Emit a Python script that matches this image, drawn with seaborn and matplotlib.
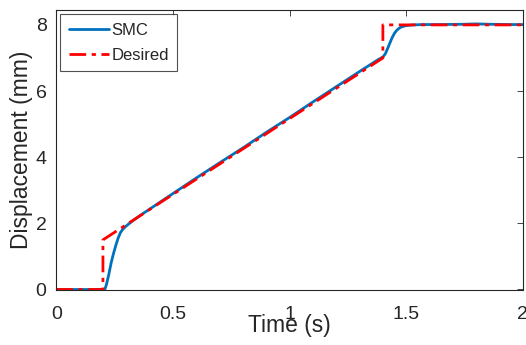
import numpy as np
import pandas as pd
import matplotlib
matplotlib.use('Agg')
import matplotlib.pyplot as plt
import seaborn as sns

# Desired trajectory (step, ramp, step)
t_desired = [0.0, 0.2, 0.2, 1.4, 1.4, 2.0]
x_desired = [0.0, 0.0, 1.5, 7.0, 8.0, 8.0]

# SMC response
t_smc = [0.0, 0.2, 0.208, 0.215, 0.225, 0.235, 0.245, 0.255, 0.265, 0.275,
         0.285, 0.295, 0.31, 0.33, 0.36, 0.4, 0.5, 0.6, 0.7, 0.8, 0.9, 1.0,
         1.1, 1.2, 1.3, 1.38, 1.40, 1.41, 1.42, 1.43, 1.44, 1.45, 1.46, 1.47,
         1.48, 1.5, 1.53, 1.57, 1.65, 1.75, 1.8, 1.85, 1.95, 2.0]
x_smc = [0.0, 0.0, 0.0, 0.15, 0.45, 0.8, 1.08, 1.33, 1.55, 1.72,
         1.82, 1.89, 1.98, 2.09, 2.24, 2.43, 2.9, 3.37, 3.83, 4.28, 4.75, 5.2,
         5.67, 6.13, 6.59, 6.95, 7.03, 7.12, 7.28, 7.45, 7.62, 7.75, 7.84, 7.9,
         7.94, 7.98, 8.0, 8.01, 8.01, 8.02, 8.03, 8.02, 8.01, 8.01]

sns.set_style('white')
plt.rcParams['font.family'] = ['Liberation Sans', 'DejaVu Sans']

fig, ax = plt.subplots(figsize=(5.26, 3.45), dpi=100)
fig.subplots_adjust(left=0.107, right=0.994, bottom=0.158, top=0.971)

smc = pd.DataFrame({'t': t_smc, 'x': x_smc})
des = pd.DataFrame({'t': t_desired, 'x': x_desired})
sns.lineplot(data=smc, x='t', y='x', sort=False, estimator=None, ax=ax,
             color='#0072BD', linewidth=2, label='SMC')
sns.lineplot(data=des, x='t', y='x', sort=False, estimator=None, ax=ax,
             color='#FF0000', linewidth=2, linestyle=(0, (6, 2, 1.5, 2)),
             label='Desired')

ax.set_xlim(0, 2)
ax.set_ylim(-0.03, 8.45)
ax.set_xticks([0, 0.5, 1, 1.5, 2])
ax.set_xticklabels(['0', '0.5', '1', '1.5', '2'])
ax.set_yticks([0, 2, 4, 6, 8])
ax.set_xlabel('Time (s)', fontsize=16.5, color='#262626', labelpad=-6)
ax.set_ylabel('Displacement (mm)', fontsize=16.5, color='#262626', labelpad=2)
ax.tick_params(direction='in', length=4, labelsize=14, colors='#262626',
               top=True, right=True, width=0.6, pad=7)
ax.tick_params(axis='x', pad=11)
for s in ax.spines.values():
    s.set_color('#262626')
    s.set_linewidth(0.8)

leg = ax.legend(loc='upper left', fontsize=12, frameon=True, fancybox=False,
                borderaxespad=0.25, handlelength=2.4, borderpad=0.5,
                labelspacing=0.6, handletextpad=0.15)
leg.get_frame().set_edgecolor('#262626')
leg.get_frame().set_linewidth(0.8)

fig.savefig('out.png', dpi=100)
